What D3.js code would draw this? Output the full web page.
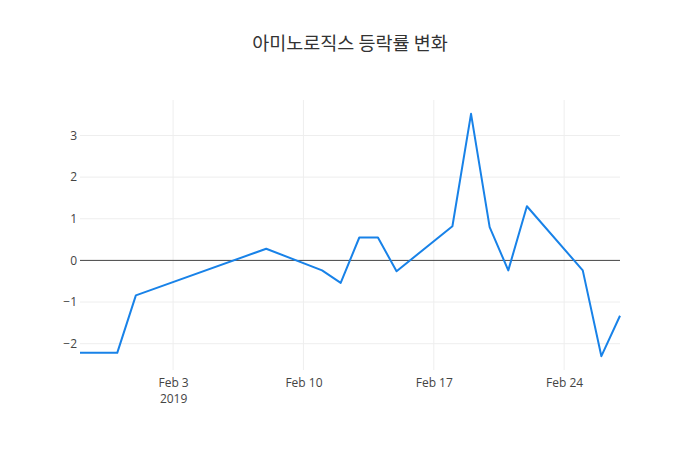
<!DOCTYPE html>
<html>
<head>
<meta charset="utf-8">
<script src="https://cdn.jsdelivr.net/npm/d3@7"></script>
<style>
  html, body { margin: 0; padding: 0; background: #fff; }
  svg { display: block; }
</style>
</head>
<body>
<div id="chart"></div>
<script>
// ---- data ----
const title = "아미노로직스 등락률 변화";
const dates = [
  "2019-01-29", "2019-01-31", "2019-02-01", "2019-02-08", "2019-02-11",
  "2019-02-12", "2019-02-13", "2019-02-14", "2019-02-15", "2019-02-18",
  "2019-02-19", "2019-02-20", "2019-02-21", "2019-02-22", "2019-02-25",
  "2019-02-26", "2019-02-27"
];
const changes = [
  -2.22, -2.22, -0.84, 0.28, -0.24,
  -0.54, 0.55, 0.55, -0.26, 0.82,
  3.52, 0.80, -0.24, 1.30, -0.24,
  -2.30, -1.33
];
const xTickDates = ["2019-02-03", "2019-02-10", "2019-02-17", "2019-02-24"];
const yTickValues = [-2, -1, 0, 1, 2, 3];

// ---- layout ----
const W = 700, H = 450;
const margin = { top: 100, right: 80, bottom: 80, left: 80 };
const parse = d3.timeParse("%Y-%m-%d");

const data = dates.map((d, i) => ({ date: parse(d), value: changes[i] }));

const svg = d3.select("#chart").append("svg")
  .attr("width", W).attr("height", H);

const x = d3.scaleTime()
  .domain(d3.extent(data, d => d.date))
  .range([margin.left, W - margin.right]);

const yMin = d3.min(changes), yMax = d3.max(changes);
const pad = (yMax - yMin) * 0.057;
const y = d3.scaleLinear()
  .domain([yMin - pad, yMax + pad])
  .range([H - margin.bottom, margin.top]);

const fontFamily = "'Open Sans', 'Noto Sans', sans-serif";

// gridlines
const xTicks = xTickDates.map(parse);
svg.append("g")
  .selectAll("line")
  .data(xTicks)
  .join("line")
  .attr("x1", d => x(d)).attr("x2", d => x(d))
  .attr("y1", margin.top).attr("y2", H - margin.bottom)
  .attr("stroke", "#eee").attr("stroke-width", 1);

svg.append("g")
  .selectAll("line")
  .data(yTickValues.filter(v => v !== 0))
  .join("line")
  .attr("x1", margin.left).attr("x2", W - margin.right)
  .attr("y1", d => y(d)).attr("y2", d => y(d))
  .attr("stroke", "#eee").attr("stroke-width", 1);

// zero line
svg.append("line")
  .attr("x1", margin.left).attr("x2", W - margin.right)
  .attr("y1", y(0)).attr("y2", y(0))
  .attr("stroke", "#444").attr("stroke-width", 1);

// y axis labels
const yAxis = d3.axisLeft(y)
  .tickValues(yTickValues)
  .tickSize(0)
  .tickPadding(3)
  .tickFormat(d => d < 0 ? "\u2212" + Math.abs(d) : String(d));
const gy = svg.append("g")
  .attr("transform", `translate(${margin.left},0)`)
  .call(yAxis);
gy.select(".domain").remove();
gy.selectAll("text")
  .attr("fill", "#444")
  .style("font-family", fontFamily)
  .style("font-size", "12px");

// x axis labels
const fmt = d3.timeFormat("%b %-d");
const xAxis = d3.axisBottom(x)
  .tickValues(xTicks)
  .tickSize(0)
  .tickPadding(8)
  .tickFormat(fmt);
const gx = svg.append("g")
  .attr("transform", `translate(0,${H - margin.bottom})`)
  .call(xAxis);
gx.select(".domain").remove();
gx.selectAll("text")
  .attr("fill", "#444")
  .style("font-family", fontFamily)
  .style("font-size", "12px");
// year on second line under first tick
gx.selectAll(".tick").filter((d, i) => i === 0)
  .append("text")
  .attr("fill", "#444")
  .attr("y", 24)
  .attr("dy", "0.71em")
  .attr("text-anchor", "middle")
  .style("font-family", fontFamily)
  .style("font-size", "12px")
  .text(d => d3.timeFormat("%Y")(d));

// line
const line = d3.line()
  .x(d => x(d.date))
  .y(d => y(d.value));

svg.append("path")
  .datum(data)
  .attr("fill", "none")
  .attr("stroke", "#1882e8")
  .attr("stroke-width", 2)
  .attr("stroke-linejoin", "round")
  .attr("d", line);

// title
svg.append("text")
  .attr("x", W / 2)
  .attr("y", 50)
  .attr("text-anchor", "middle")
  .attr("fill", "#333")
  .style("font-family", "'Noto Sans CJK KR', 'Open Sans', sans-serif")
  .style("font-size", "18.5px")
  .text(title);
</script>
</body>
</html>
